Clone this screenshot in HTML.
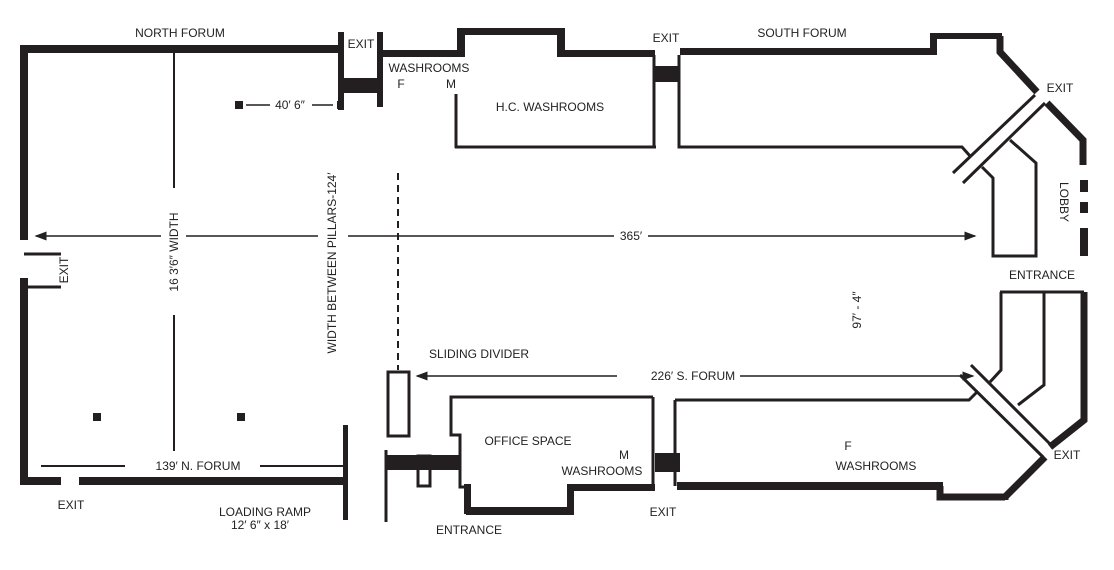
<!DOCTYPE html>
<html><head><meta charset="utf-8"><style>
html,body{margin:0;padding:0;background:#fff;}
svg{display:block;}
text{font-family:"Liberation Sans",sans-serif;font-size:12px;fill:#222;}
</style></head><body>
<svg width="1114" height="570" viewBox="0 0 1114 570" xmlns="http://www.w3.org/2000/svg">
<defs><marker id="a" markerWidth="8" markerHeight="6" refX="7" refY="3" orient="auto"><path d="M0,0 L8,3 L0,6 z" fill="#222"/></marker></defs>
<g fill="#231f20" stroke="none">
<rect x="20" y="45" width="322" height="8"/>
<rect x="20" y="45" width="8" height="195"/>
<rect x="20" y="278" width="8" height="207"/>
<rect x="20" y="477" width="41" height="8"/>
<rect x="79" y="477" width="269" height="8"/>
<rect x="338" y="32" width="6" height="78"/>
<rect x="377" y="32" width="6" height="75"/>
<rect x="344" y="78" width="36" height="15"/>
<rect x="343" y="425" width="5" height="95"/>
<rect x="235" y="101" width="8" height="8"/>
<rect x="337" y="101" width="6" height="8"/>
<rect x="93" y="413" width="8" height="8"/>
<rect x="237" y="413" width="8" height="8"/>
<rect x="383" y="50" width="80" height="7"/>
<rect x="457" y="28" width="8" height="29"/>
<rect x="457" y="28" width="108" height="7"/>
<rect x="557" y="28" width="8" height="29"/>
<rect x="557" y="50" width="98" height="7"/>
<rect x="655" y="66" width="25" height="16"/>
<rect x="680" y="48" width="257" height="7"/>
<rect x="930" y="33" width="7" height="22"/>
<rect x="930" y="33" width="72" height="6"/>
<rect x="1080" y="180" width="8" height="12"/>
<rect x="1080" y="202" width="8" height="11"/>
<rect x="1080" y="228" width="8" height="28"/>
<rect x="386" y="455" width="74" height="15"/>
<rect x="655" y="453" width="25" height="19"/>
<rect x="570" y="484" width="85" height="7"/>
<rect x="466" y="507" width="108" height="8"/>
<rect x="464" y="484" width="7" height="30"/>
<rect x="567" y="484" width="7" height="30"/>
<rect x="677" y="482" width="266" height="8"/>
</g>
<g fill="none" stroke="#231f20">
<path d="M1000,36 L1000,52 L1037,92" stroke-width="7"/>
<path d="M1047,103 L1083,140 L1083,165" stroke-width="7"/>
<path d="M1084,292 L1084,420 L1050,447" stroke-width="7"/>
<path d="M1045,457 L1005,497 L1005,500 M940,486 L940,497 L1005,497" stroke-width="7"/>
<path d="M24,254 H61 M24,287 H61" stroke-width="3"/>
<path d="M174,53 V188 M174,315 V451" stroke-width="2"/>
<path d="M246,105 H270 M312,105 H333" stroke-width="1.5"/>
<path d="M41,466 H125 M260,466 H343" stroke-width="2"/>
<path d="M398,173 V370" stroke-width="2" stroke-dasharray="7,5"/>
<path d="M186,236 H318 M348,236 H614" stroke-width="1.5"/>
<path d="M648,236 H975" stroke-width="1.5" marker-end="url(#a)"/>
<path d="M161,236 H36" stroke-width="1.5" marker-end="url(#a)"/>
<path d="M654,55 V147 M456,94 V148 M455,147 H656" stroke-width="3"/>
<path d="M679,55 V147 H962 L970,156" stroke-width="3"/>
<path d="M953,173 L1035,95 M963,183 L1045,103" stroke-width="3"/>
<path d="M1010,140 L1036,163 V256 H993 V178 L982,167" stroke-width="3"/>
<path d="M1000,292 H1084 M1001,292 V370 L990,382 M1044,292 V385 L1018,405" stroke-width="3"/>
<path d="M971,365 L1052,446 M960,375 L1043,457" stroke-width="3"/>
<path d="M675,400 V486 M675,400 H969 L978,391" stroke-width="3"/>
<path d="M617,376 H417" stroke-width="1.5" marker-end="url(#a)"/>
<path d="M740,376 H973" stroke-width="1.5" marker-end="url(#a)"/>
<rect x="388" y="372" width="21" height="64" stroke-width="3"/>
<rect x="418" y="456" width="12" height="30" stroke-width="3"/>
<path d="M386,450 V522" stroke-width="3"/>
<path d="M653,397 H451 V435 H460 V487 H467" stroke-width="3"/>
<path d="M653,397 V487" stroke-width="3"/>
</g>
<text x="180" y="37" text-anchor="middle">NORTH FORUM</text>
<text x="361" y="48" text-anchor="middle">EXIT</text>
<text x="429" y="72" text-anchor="middle">WASHROOMS</text>
<text x="401" y="88" text-anchor="middle">F</text>
<text x="451" y="88" text-anchor="middle">M</text>
<text x="290" y="109" text-anchor="middle">40′ 6″</text>
<text x="550" y="111" text-anchor="middle">H.C. WASHROOMS</text>
<text x="666" y="42" text-anchor="middle">EXIT</text>
<text x="802" y="37" text-anchor="middle">SOUTH FORUM</text>
<text x="1060" y="92" text-anchor="middle">EXIT</text>
<text transform="translate(1060,202) rotate(90)" text-anchor="middle">LOBBY</text>
<text x="631" y="240" text-anchor="middle">365′</text>
<text x="1042" y="279" text-anchor="middle">ENTRANCE</text>
<text transform="translate(861,310) rotate(-90)" text-anchor="middle">97′ - 4″</text>
<text transform="translate(178,252) rotate(-90)" text-anchor="middle">16 3′6″ WIDTH</text>
<text transform="translate(336,263) rotate(-90)" text-anchor="middle">WIDTH BETWEEN PILLARS-124′</text>
<text transform="translate(68,270) rotate(-90)" text-anchor="middle">EXIT</text>
<text x="479" y="358" text-anchor="middle">SLIDING DIVIDER</text>
<text x="693" y="380" text-anchor="middle">226′ S. FORUM</text>
<text x="528" y="445" text-anchor="middle">OFFICE SPACE</text>
<text x="624" y="459" text-anchor="middle">M</text>
<text x="602" y="475" text-anchor="middle">WASHROOMS</text>
<text x="663" y="516" text-anchor="middle">EXIT</text>
<text x="848" y="450" text-anchor="middle">F</text>
<text x="876" y="470" text-anchor="middle">WASHROOMS</text>
<text x="1067" y="459" text-anchor="middle">EXIT</text>
<text x="469" y="534" text-anchor="middle">ENTRANCE</text>
<text x="198" y="470" text-anchor="middle">139′ N. FORUM</text>
<text x="265" y="516" text-anchor="middle">LOADING RAMP</text>
<text x="260" y="529" text-anchor="middle">12′ 6″ x 18′</text>
<text x="71" y="509" text-anchor="middle">EXIT</text>
</svg>
</body></html>
